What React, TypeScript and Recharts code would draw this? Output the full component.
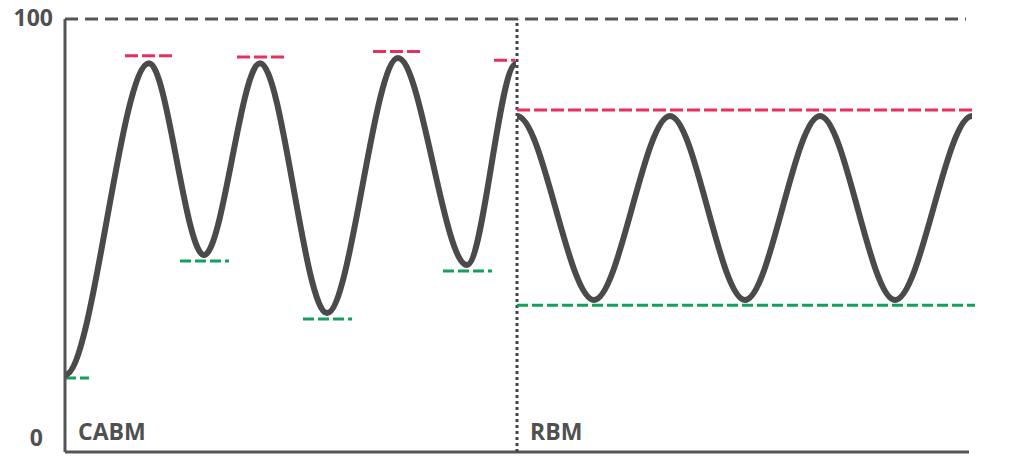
import { LineChart, Line, XAxis, YAxis, ReferenceLine } from 'recharts';

// CABM section: peaks and troughs (x in plot px from the y axis)
const cabmX = [0, 84, 139, 195, 262, 333, 402, 451];
const cabmY = [17.8, 89.8, 45.5, 89.8, 32.1, 91.0, 43.2, 89.6];

// RBM section: regular oscillation
const rbmX = [452, 529, 605, 680, 755, 830, 907];
const rbmY = [77.6, 35.1, 77.6, 35.1, 77.6, 35.1, 77.6];

// short marker dashes above peaks / below troughs
const peakMarkY = [91.5, 91.2, 92.5, 90.5];
const peakMarkFrom = [60, 172, 308, 429];
const peakMarkTo = [108, 220, 357, 450];
const troughMarkY = [17.1, 44.1, 30.7, 41.8];
const troughMarkFrom = [0, 115, 238, 378];
const troughMarkTo = [24, 164, 287, 427];

// RBM bands
const rbmUpper = 79.0;
const rbmLower = 33.9;
const rbmFrom = 452;
const rbmTo = 910;

const splitX = 452;
const xDomain = [0, 910];
const yTicks = [0, 100];
const axisEnd = 904;
const topLineEnd = 901;

const GRAY = '#4a4a4a';
const RED = '#e8305a';
const GREEN = '#12a15a';
const FONT = '"Open Sans", sans-serif';

// cubic with monotone tangents in the middle and flat ends
function flatEnds(context: any) {
  let xs: number[] = [];
  let ys: number[] = [];
  return {
    areaStart() {},
    areaEnd() {},
    lineStart() {
      xs = [];
      ys = [];
    },
    point(x: number, y: number) {
      xs.push(+x);
      ys.push(+y);
    },
    lineEnd() {
      const n = xs.length;
      if (!n) return;
      const m = new Array(n).fill(0);
      for (let i = 1; i < n - 1; i++) {
        const s0 = (ys[i] - ys[i - 1]) / (xs[i] - xs[i - 1]);
        const s1 = (ys[i + 1] - ys[i]) / (xs[i + 1] - xs[i]);
        m[i] = s0 * s1 <= 0 ? 0 : 2 / (1 / s0 + 1 / s1);
      }
      context.moveTo(xs[0], ys[0]);
      for (let i = 1; i < n; i++) {
        const dx = (xs[i] - xs[i - 1]) / 3;
        context.bezierCurveTo(
          xs[i - 1] + dx,
          ys[i - 1] + m[i - 1] * dx,
          xs[i] - dx,
          ys[i] - m[i] * dx,
          xs[i],
          ys[i]
        );
      }
    },
  };
}

const renderYTick = (p: any) => {
  const zero = p.payload.value === 0;
  return (
    <text
      key={`yt${p.payload.value}`}
      x={p.x + (zero ? -9 : 1)}
      y={p.y + (zero ? -6 : 7)}
      textAnchor="end"
      style={{ fill: '#505050', fontFamily: FONT, fontWeight: 700, fontSize: 23 }}
    >
      {p.payload.value}
    </text>
  );
};

const sectionLabel = (text: string) => (props: any) => {
  const vb = props.viewBox;
  return (
    <text
      x={vb.x + 13}
      y={vb.y + vb.height - 12}
      style={{ fill: '#505050', fontFamily: FONT, fontWeight: 700, fontSize: 23 }}
    >
      {text}
    </text>
  );
};

export default function App() {
  const cabm = cabmX.map((x, i) => ({ x, y: cabmY[i] }));
  const rbm = rbmX.map((x, i) => ({ x, y: rbmY[i] }));

  return (
    <div style={{ position: 'absolute', left: 0, top: 0 }}>
      <LineChart width={1024} height={457} margin={{ top: 19, right: 49, bottom: 5, left: 0 }}>
        <XAxis dataKey="x" type="number" domain={xDomain} hide />
        <YAxis
          type="number"
          domain={[0, 100]}
          ticks={yTicks}
          interval={0}
          width={65}
          tickLine={false}
          tickSize={0}
          tickMargin={13}
          axisLine={{ stroke: '#555', strokeWidth: 3 }}
          tick={renderYTick}
        />

        {/* top 100 line and bottom axis */}
        <ReferenceLine
          segment={[{ x: 0, y: 100 }, { x: topLineEnd, y: 100 }]}
          stroke="#555"
          strokeWidth={3}
          strokeDasharray="13 7"
        />
        <ReferenceLine
          segment={[{ x: 0, y: 0 }, { x: axisEnd, y: 0 }]}
          stroke="#555"
          strokeWidth={3}
        />

        {/* section divider + labels */}
        <ReferenceLine x={0} stroke="none" label={sectionLabel('CABM')} />
        <ReferenceLine
          x={splitX}
          stroke="#444"
          strokeWidth={3}
          strokeDasharray="3 3"
          label={sectionLabel('RBM')}
        />

        {peakMarkY.map((v, i) => (
          <ReferenceLine
            key={`p${i}`}
            segment={[{ x: peakMarkFrom[i], y: v }, { x: peakMarkTo[i], y: v }]}
            stroke={RED}
            strokeWidth={3}
            strokeDasharray="13 4"
          />
        ))}
        {troughMarkY.map((v, i) => (
          <ReferenceLine
            key={`t${i}`}
            segment={[{ x: troughMarkFrom[i], y: v }, { x: troughMarkTo[i], y: v }]}
            stroke={GREEN}
            strokeWidth={3}
            strokeDasharray="11 4"
          />
        ))}
        <ReferenceLine
          segment={[{ x: rbmFrom, y: rbmUpper }, { x: rbmTo, y: rbmUpper }]}
          stroke={RED}
          strokeWidth={3}
          strokeDasharray="13 4"
        />
        <ReferenceLine
          segment={[{ x: rbmFrom, y: rbmLower }, { x: rbmTo, y: rbmLower }]}
          stroke={GREEN}
          strokeWidth={3}
          strokeDasharray="11 4"
        />

        <Line
          data={cabm}
          dataKey="y"
          type={flatEnds as any}
          stroke={GRAY}
          strokeWidth={6}
          dot={false}
          activeDot={false}
          isAnimationActive={false}
        />
        <Line
          data={rbm}
          dataKey="y"
          type={flatEnds as any}
          stroke={GRAY}
          strokeWidth={6}
          dot={false}
          activeDot={false}
          isAnimationActive={false}
        />
      </LineChart>
    </div>
  );
}
